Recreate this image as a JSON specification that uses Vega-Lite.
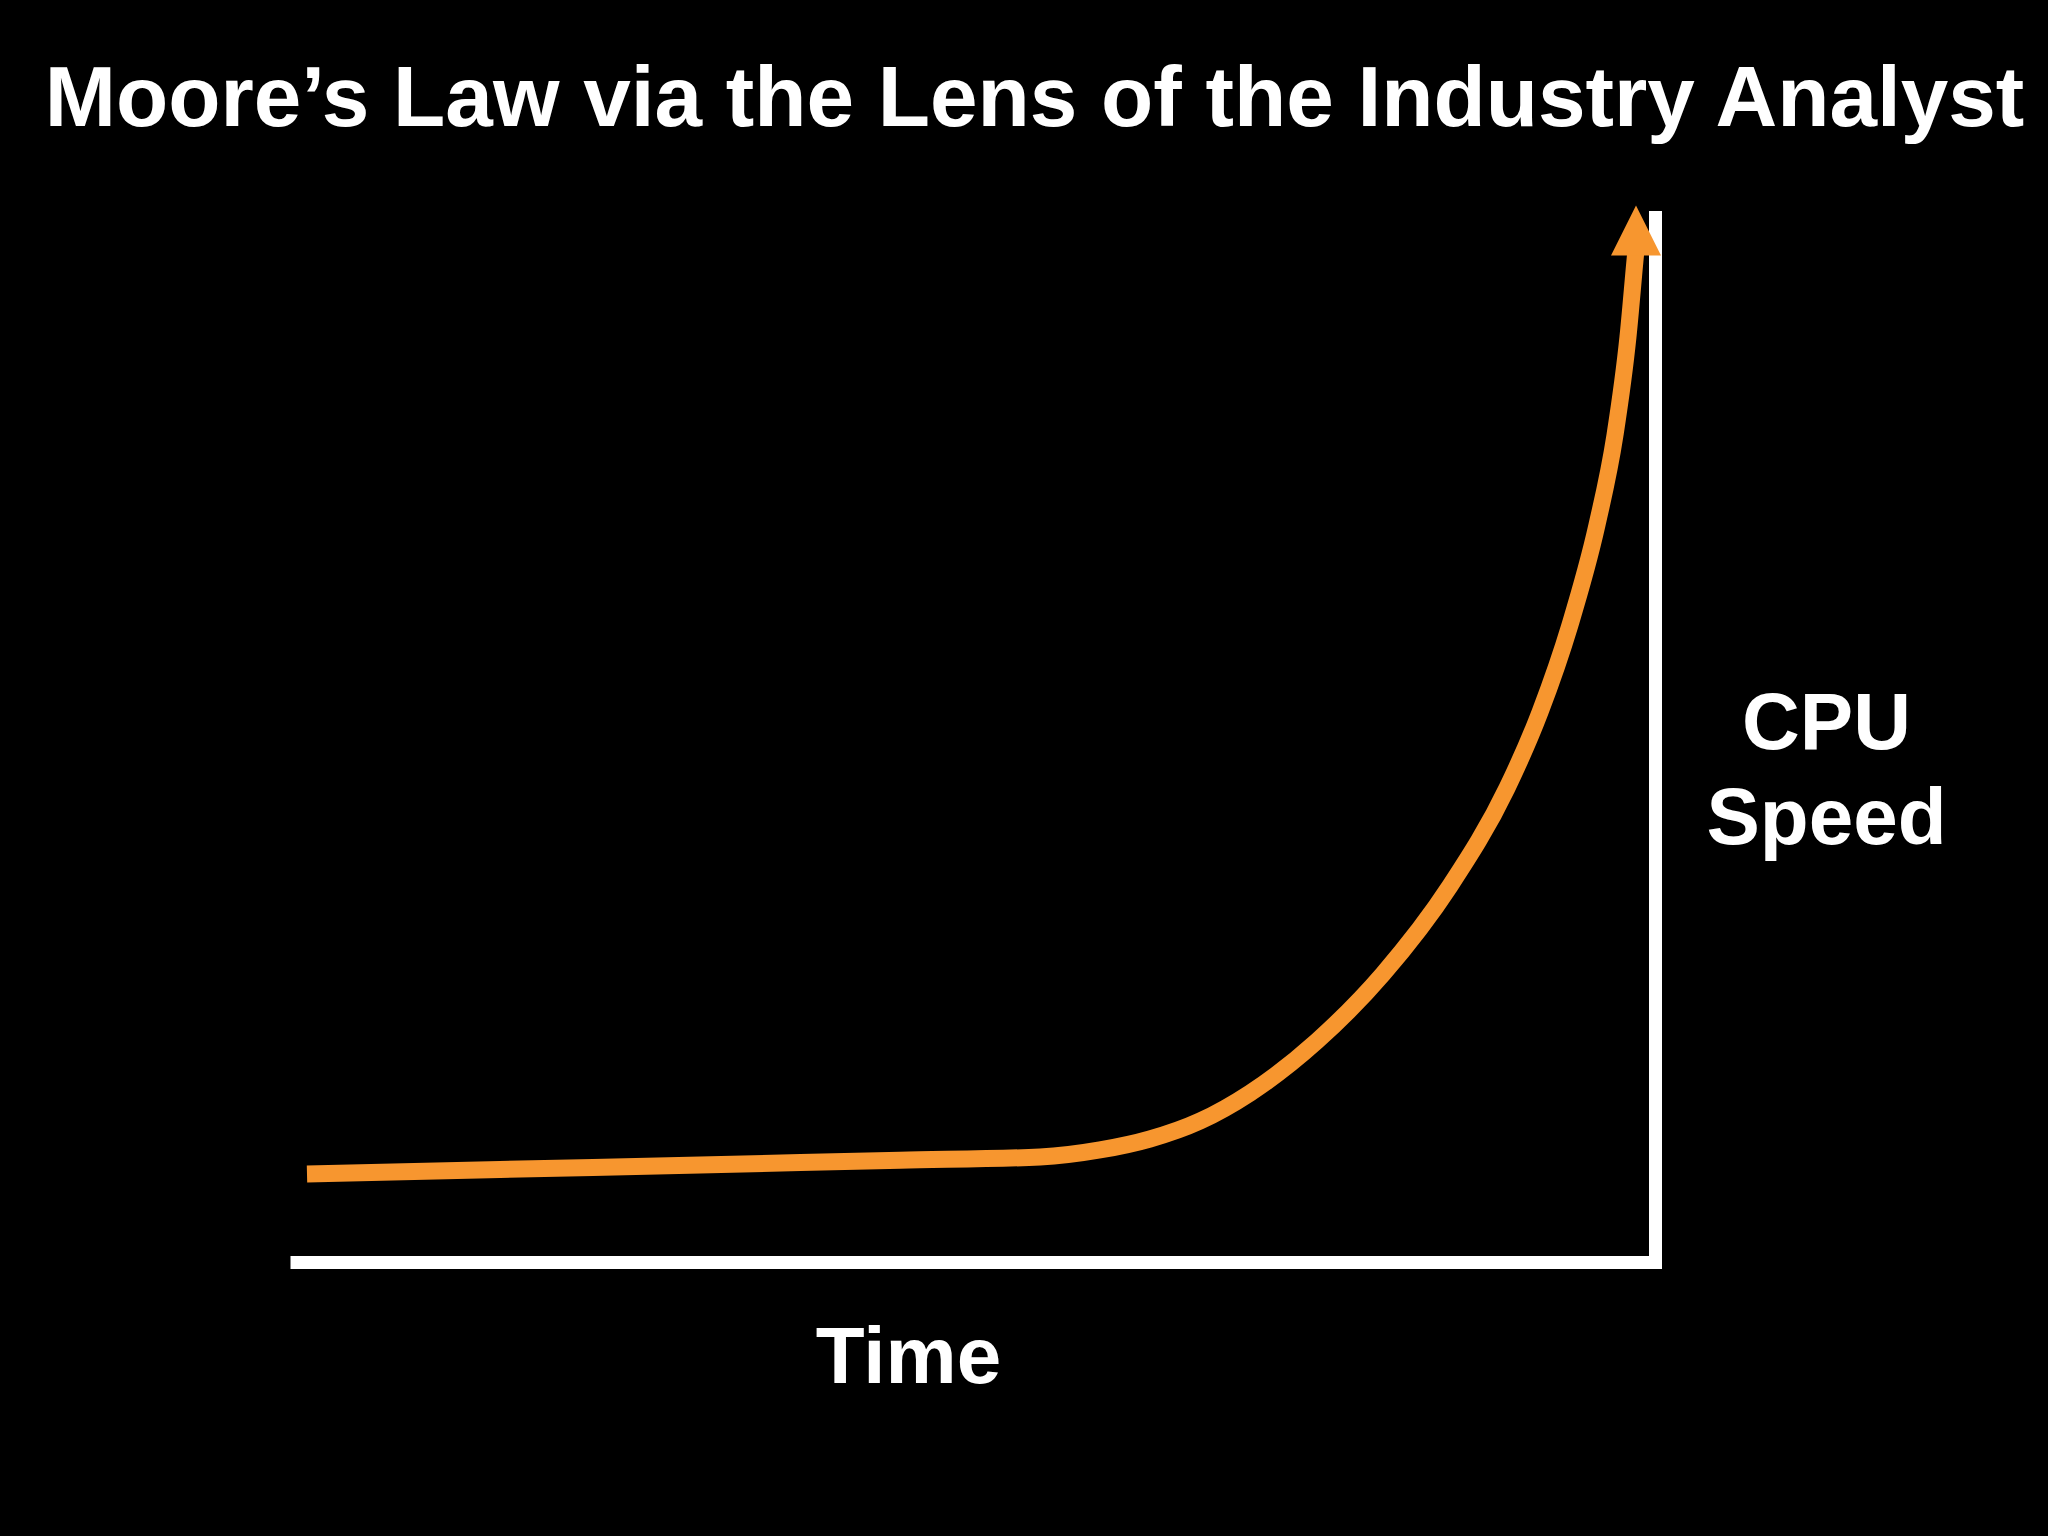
{
  "$schema": "https://vega.github.io/schema/vega-lite/v6.json",
  "autosize": {"type": "none"},
  "width": 1365,
  "height": 1045,
  "padding": {"left": 290, "top": 217, "right": 393, "bottom": 274},
  "background": "#000000",
  "title": {
    "text": "Moore’s Law via the Lens of the Industry Analyst",
    "font": "Liberation Sans",
    "fontSize": 85.5,
    "fontWeight": "bold",
    "color": "#ffffff",
    "anchor": "middle",
    "frame": "group",
    "dx": 62,
    "offset": 62
  },
  "config": {
    "view": {"stroke": null},
    "axis": {
      "domainColor": "#ffffff",
      "domainWidth": 13,
      "ticks": false,
      "labels": false,
      "grid": false,
      "titleFont": "Liberation Sans",
      "titleFontWeight": "bold",
      "titleColor": "#ffffff",
      "titleFontSize": 80
    }
  },
  "datasets": {
    "curve": [
      {"time": 1.245, "speed": 8.42},
      {"time": 15.38, "speed": 8.85},
      {"time": 30.04, "speed": 9.29},
      {"time": 44.69, "speed": 9.74},
      {"time": 54.95, "speed": 10.05},
      {"time": 59.34, "speed": 10.72},
      {"time": 63.0, "speed": 11.77},
      {"time": 66.67, "speed": 13.49},
      {"time": 70.33, "speed": 16.17},
      {"time": 75.24, "speed": 21.15},
      {"time": 80.07, "speed": 27.56},
      {"time": 84.98, "speed": 35.98},
      {"time": 89.16, "speed": 45.36},
      {"time": 91.58, "speed": 52.63},
      {"time": 93.77, "speed": 60.96},
      {"time": 95.75, "speed": 70.53},
      {"time": 97.07, "speed": 79.14},
      {"time": 98.02, "speed": 88.52},
      {"time": 98.53, "speed": 95.79},
      {"time": 98.68, "speed": 97.89}
    ],
    "arrow": [
      {"time": 98.61, "speed": 98.71}
    ]
  },
  "layer": [
    {
      "data": {"name": "curve"},
      "mark": {"type": "line", "color": "#F7962F", "strokeWidth": 17, "strokeCap": "butt", "interpolate": "monotone"},
      "encoding": {
        "x": {
          "field": "time", "type": "quantitative",
          "scale": {"domain": [0, 100], "nice": false, "zero": false},
          "axis": {"orient": "bottom", "title": "Time", "domainCap": "butt", "titleX": 618, "titleY": 120, "titleAlign": "center", "titleBaseline": "alphabetic", "titleAnchor": null}
        },
        "y": {
          "field": "speed", "type": "quantitative",
          "scale": {"domain": [0, 100], "nice": false, "zero": false},
          "axis": {"orient": "right", "title": ["CPU", "Speed"], "domainCap": "square", "titleAngle": 0, "titleX": 171, "titleY": 531, "titleAlign": "center", "titleBaseline": "alphabetic", "titleLineHeight": 95}
        }
      }
    },
    {
      "data": {"name": "arrow"},
      "mark": {"type": "point", "shape": "M-1,1L0,-1L1,1Z", "filled": true, "color": "#F7962F", "opacity": 1, "size": 2500, "strokeWidth": 0},
      "encoding": {
        "x": {"field": "time", "type": "quantitative"},
        "y": {"field": "speed", "type": "quantitative"}
      }
    }
  ]
}
